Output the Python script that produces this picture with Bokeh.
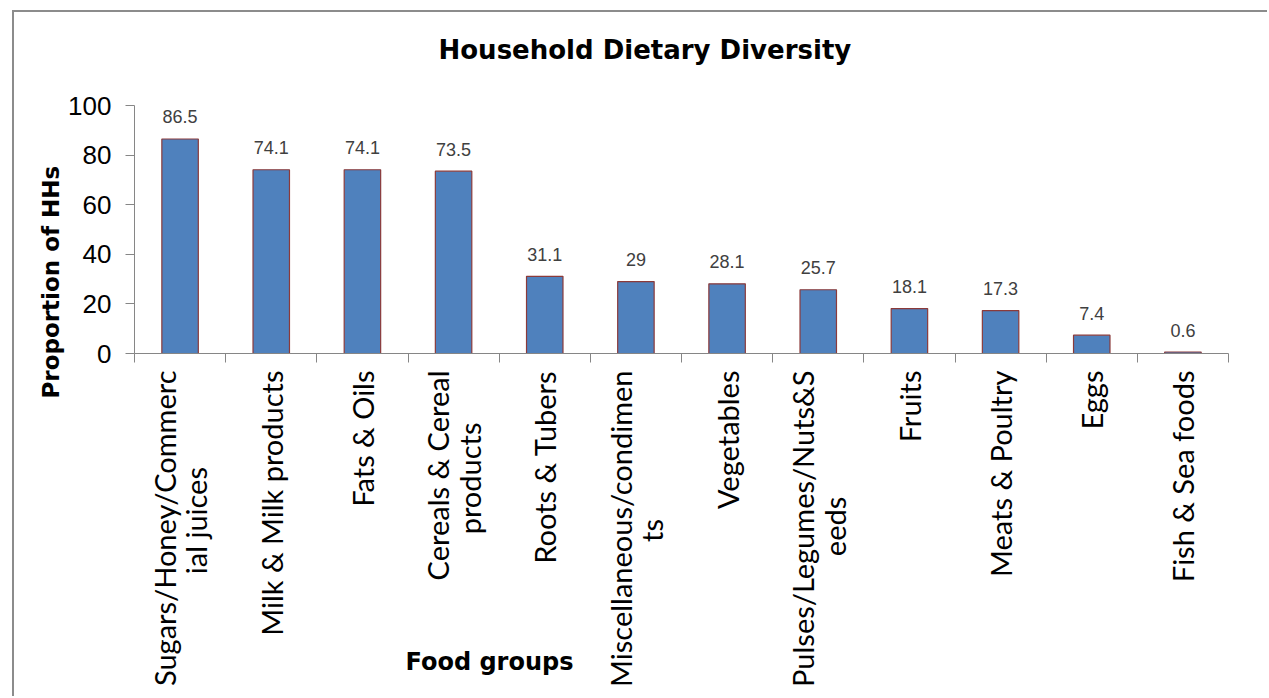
import math
from bokeh.plotting import figure
from bokeh.models import Range1d, LinearAxis, FixedTicker, ColumnDataSource, LabelSet, Title
from bokeh.core.properties import value
from bokeh.embed import file_html
from bokeh.resources import INLINE

# ---- data ----
categories = [
    "Sugars/Honey/Commerc\nial juices",
    "Milk & Milk products",
    "Fats & Oils",
    "Cereals & Cereal\nproducts",
    "Roots & Tubers",
    "Miscellaneous/condimen\nts",
    "Vegetables",
    "Pulses/Legumes/Nuts&S\needs",
    "Fruits",
    "Meats & Poultry",
    "Eggs",
    "Fish & Sea foods",
]
values = [86.5, 74.1, 74.1, 73.5, 31.1, 29, 28.1, 25.7, 18.1, 17.3, 7.4, 0.6]
value_labels = ["86.5", "74.1", "74.1", "73.5", "31.1", "29", "28.1", "25.7",
                "18.1", "17.3", "7.4", "0.6"]
y_ticks = [0, 20, 40, 60, 80, 100]

title_text = "Household Dietary Diversity"
y_title = "Proportion of HHs"
x_title = "Food groups"

# styling only: non-breaking spaces appended to wrapped second lines so that
# they sit centred under the first line (axis labels are end-aligned)
second_line_pad = {0: 13, 3: 7, 5: 20, 7: 17}

n = len(categories)
centers = [i + 0.5 for i in range(n)]
boundaries = list(range(n + 1))


def display_label(i, lab):
    pad = second_line_pad.get(i, 0)
    if "\n" in lab and pad:
        first, second = lab.split("\n", 1)
        return first + "\n" + second + "\u00a0" * pad
    return lab


GRAY = "#868686"

p = figure(width=1255, height=686,
           x_range=Range1d(0, n), y_range=Range1d(0, 100),
           output_backend="svg", toolbar_location=None,
           x_axis_type=None,
           min_border_left=120, min_border_right=41,
           min_border_top=93, min_border_bottom=345)
p.styles = {"margin-left": "12px", "margin-top": "10px",
            "border-left": "2px solid #8c8c8c", "border-top": "2px solid #8c8c8c"}
p.outline_line_color = None
p.grid.visible = False
p.background_fill_color = "white"
p.border_fill_color = "white"

# title (spacer next to the frame, then the title text)
p.add_layout(Title(text="\u00a0", standoff=28, text_font_size="10px"), "above")
p.add_layout(Title(text=title_text, align="left", offset=304, standoff=0,
                   text_font="DejaVu Sans", text_font_style="bold",
                   text_font_size="26px", text_color="black"), "above")

# y axis
yax = p.yaxis[0]
yax.ticker = FixedTicker(ticks=y_ticks)
yax.major_tick_out = 9
yax.major_tick_in = 0
yax.minor_tick_line_color = None
yax.axis_line_color = GRAY
yax.major_tick_line_color = GRAY
yax.major_label_text_font = "Liberation Sans"
yax.major_label_text_font_size = "26px"
yax.major_label_text_color = "black"
yax.major_label_standoff = 14

p.add_layout(Title(text=y_title, align="left", offset=-45, standoff=4,
                   text_font="DejaVu Sans", text_font_style="bold",
                   text_font_size="23px", text_color="black"), "left")

# x axis: tick marks between categories
xticks_ax = LinearAxis(ticker=FixedTicker(ticks=boundaries))
xticks_ax.major_tick_out = 9
xticks_ax.major_tick_in = 0
xticks_ax.minor_tick_line_color = None
xticks_ax.axis_line_color = GRAY
xticks_ax.major_tick_line_color = GRAY
xticks_ax.major_label_text_font_size = "0px"
xticks_ax.major_label_text_alpha = 0
xticks_ax.major_label_standoff = 0
p.add_layout(xticks_ax, "below")

# x axis: category labels
xlab_ax = LinearAxis(ticker=FixedTicker(ticks=centers))
xlab_ax.major_label_overrides = {c: display_label(i, lab)
                                 for i, (c, lab) in enumerate(zip(centers, categories))}
xlab_ax.major_label_orientation = math.pi / 2
xlab_ax.axis_line_color = None
xlab_ax.major_tick_line_color = None
xlab_ax.minor_tick_line_color = None
xlab_ax.major_label_text_font = "Lato"
xlab_ax.major_label_text_font_size = "29px"
xlab_ax.major_label_text_line_height = 0.9
xlab_ax.major_label_text_color = "black"
xlab_ax.major_label_standoff = 2
p.add_layout(xlab_ax, "below")

p.add_layout(Title(text=x_title, align="left", offset=271, standoff=-84,
                   vertical_align="top",
                   text_font="DejaVu Sans", text_font_style="bold",
                   text_font_size="24px", text_color="black"), "below")

# bars
src = ColumnDataSource(dict(x=centers, top=values, label=value_labels))
p.vbar(x="x", top="top", width=0.4, bottom=0, source=src,
       fill_color="#4F81BD", line_color="#8B3A3A", line_width=1.2)

labels = LabelSet(x="x", y="top", text="label", source=src,
                  y_offset=22, text_align="center", text_baseline="middle",
                  text_font=value("Liberation Sans"), text_font_size="18px",
                  text_color="#404040")
p.add_layout(labels)

open("out.html", "w").write(file_html(p, INLINE))
